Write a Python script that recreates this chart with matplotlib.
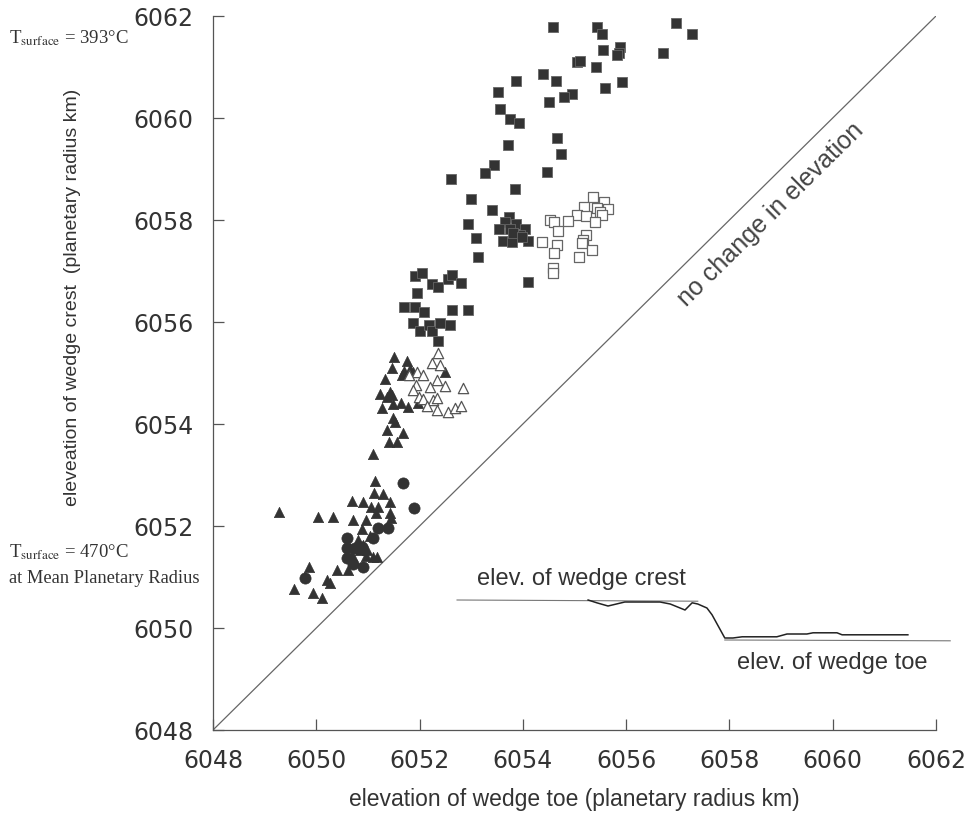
import numpy as np
import matplotlib.pyplot as plt

# -------------------------------------------------
# Data (planetary radius, km)
# -------------------------------------------------
sq_filled_toe = [
    6054.58, 6055.44, 6055.05, 6055.42, 6054.39, 6054.64, 6053.87, 6053.52,
    6054.95, 6054.80, 6054.51, 6053.56, 6053.75, 6053.93, 6054.66, 6054.74,
    6053.71, 6053.44, 6053.27, 6054.47, 6052.61, 6053.85, 6053.00, 6053.40,
    6053.73, 6053.87, 6053.65, 6053.54, 6053.75, 6054.04, 6053.94, 6053.62,
    6053.79, 6054.10, 6053.81, 6053.98, 6052.94, 6053.09, 6053.13, 6054.10,
    6051.91, 6052.05, 6051.95, 6052.24, 6052.36, 6052.55, 6052.63, 6052.80,
    6051.70, 6051.91, 6052.09, 6052.63, 6052.94, 6051.87, 6052.01, 6052.18,
    6052.24, 6052.40, 6052.59, 6052.36, 6055.53, 6056.97, 6057.28, 6055.55,
    6055.88, 6055.86, 6055.82, 6056.71, 6055.11, 6055.92, 6055.59,
]
sq_filled_crest = [
    6061.78, 6061.78, 6061.10, 6061.00, 6060.86, 6060.73, 6060.73, 6060.51,
    6060.47, 6060.41, 6060.31, 6060.18, 6059.98, 6059.90, 6059.61, 6059.29,
    6059.47, 6059.08, 6058.92, 6058.94, 6058.80, 6058.61, 6058.41, 6058.20,
    6058.06, 6057.92, 6057.96, 6057.82, 6057.82, 6057.82, 6057.71, 6057.59,
    6057.57, 6057.59, 6057.75, 6057.67, 6057.92, 6057.65, 6057.27, 6056.78,
    6056.90, 6056.96, 6056.57, 6056.75, 6056.69, 6056.84, 6056.92, 6056.76,
    6056.29, 6056.29, 6056.20, 6056.24, 6056.24, 6055.98, 6055.82, 6055.94,
    6055.82, 6055.98, 6055.94, 6055.63, 6061.65, 6061.86, 6061.65, 6061.33,
    6061.39, 6061.27, 6061.24, 6061.27, 6061.12, 6060.71, 6060.59,
]

sq_open_toe = [
    6055.36, 6055.57, 6055.18, 6055.44, 6055.65, 6055.49, 6055.05, 6055.22,
    6055.53, 6055.40, 6054.87, 6054.53, 6054.60, 6054.68, 6054.37, 6054.66,
    6054.60, 6055.22, 6055.16, 6055.15, 6055.34, 6055.09, 6054.58, 6054.58,
]
sq_open_crest = [
    6058.45, 6058.35, 6058.25, 6058.24, 6058.22, 6058.16, 6058.10, 6058.08,
    6058.10, 6057.96, 6057.98, 6058.00, 6057.96, 6057.78, 6057.57, 6057.51,
    6057.35, 6057.71, 6057.61, 6057.55, 6057.41, 6057.27, 6057.06, 6056.96,
]

tri_filled_toe = [
    6051.50, 6051.76, 6051.47, 6051.70, 6051.81, 6051.87, 6051.66, 6052.49,
    6051.33, 6051.23, 6051.43, 6051.37, 6051.47, 6051.27, 6051.49, 6051.64,
    6051.78, 6051.97, 6051.49, 6051.52, 6051.37, 6051.68, 6051.41, 6051.56,
    6051.10, 6051.14, 6051.12, 6051.29, 6050.69, 6050.90, 6051.06, 6051.20,
    6051.43, 6049.28, 6050.03, 6050.32, 6050.71, 6050.96, 6051.43, 6051.45,
    6051.16, 6050.89, 6050.90, 6050.98, 6050.85, 6051.10, 6051.18, 6050.96,
    6050.61, 6050.40, 6049.86, 6050.21, 6050.27, 6049.57, 6049.94, 6050.11,
    6050.81, 6051.04, 6050.69,
]
tri_filled_crest = [
    6055.31, 6055.24, 6055.10, 6055.04, 6055.08, 6055.02, 6054.96, 6055.02,
    6054.88, 6054.59, 6054.63, 6054.53, 6054.57, 6054.31, 6054.39, 6054.41,
    6054.33, 6054.41, 6054.12, 6054.04, 6053.88, 6053.82, 6053.65, 6053.65,
    6053.41, 6052.88, 6052.65, 6052.63, 6052.49, 6052.47, 6052.37, 6052.37,
    6052.47, 6052.27, 6052.18, 6052.18, 6052.12, 6052.12, 6052.25, 6052.16,
    6052.25, 6051.94, 6051.63, 6051.53, 6051.53, 6051.39, 6051.39, 6051.41,
    6051.14, 6051.14, 6051.20, 6050.94, 6050.88, 6050.76, 6050.69, 6050.59,
    6051.73, 6051.80, 6051.43,
]

tri_open_toe = [
    6052.36, 6052.24, 6052.40, 6051.95, 6052.07, 6051.80, 6052.34, 6051.93,
    6052.20, 6052.49, 6052.84, 6051.87, 6051.99, 6052.07, 6052.26, 6052.34,
    6052.14, 6052.34, 6052.55, 6052.69, 6052.80,
]
tri_open_crest = [
    6055.39, 6055.20, 6055.16, 6055.02, 6054.96, 6054.96, 6054.86, 6054.76,
    6054.73, 6054.75, 6054.71, 6054.67, 6054.53, 6054.49, 6054.47, 6054.51,
    6054.35, 6054.27, 6054.24, 6054.31, 6054.35,
]

circ_toe = [
    6051.68, 6051.89, 6051.20, 6051.39, 6050.59, 6051.10, 6050.59, 6050.75,
    6050.89, 6050.59, 6050.71, 6050.90, 6049.78,
]
circ_crest = [
    6052.84, 6052.35, 6051.96, 6051.96, 6051.76, 6051.76, 6051.57, 6051.57,
    6051.59, 6051.37, 6051.25, 6051.20, 6050.98,
]

TICKS = [6048, 6050, 6052, 6054, 6056, 6058, 6060, 6062]

# schematic profile (distance along profile, relative elevation)
profile_dist = [26.1, 27.8, 30.0, 31.0, 33.3, 40.2, 42.2, 45.1, 46.5, 47.6,
                49.4, 50.4, 52.9, 54.5, 56.3, 63.1, 65.1, 69.0, 70.2, 74.9,
                75.9, 88.8]
profile_elev = [1.00, 0.93, 0.85, 0.88, 0.95, 0.95, 0.90, 0.75, 0.93, 0.90,
                0.80, 0.63, 0.05, 0.05, 0.08, 0.08, 0.15, 0.15, 0.18, 0.18,
                0.13, 0.13]
crest_dist = [0.4, 47.6]
crest_elev = [1.00, 0.97]
toe_dist = [52.9, 97.1]
toe_elev = [0.00, -0.02]

# -------------------------------------------------
# Style
# -------------------------------------------------
plt.rcParams["mathtext.fontset"] = "stix"
INK = "#333333"
AXC = "#555555"
W, H = 971, 838

fig = plt.figure(figsize=(W / 100, H / 100), dpi=100)
ax = fig.add_axes([213 / W, 1 - 730 / H, 723 / W, 714 / H])

ax.scatter(sq_filled_toe, sq_filled_crest, marker="s", s=50,
           c=INK, edgecolors="#666666", linewidths=0.6, zorder=3)
ax.scatter(sq_open_toe, sq_open_crest, marker="s", s=50,
           facecolors="white", edgecolors="#666666", linewidths=0.9, zorder=3)
ax.scatter(tri_filled_toe, tri_filled_crest, marker="^", s=55,
           c=INK, edgecolors=INK, linewidths=0.5, zorder=3)
ax.scatter(tri_open_toe, tri_open_crest, marker="^", s=55,
           facecolors="white", edgecolors="#555555", linewidths=0.9, zorder=3)
ax.scatter(circ_toe, circ_crest, marker="o", s=65,
           c=INK, edgecolors=INK, linewidths=0.5, zorder=3)

# 1:1 line
ax.plot([TICKS[0], TICKS[-1]], [TICKS[0], TICKS[-1]], color="#666666", lw=0.9)
ax.text(6058.8, 6058.1, "no change in elevation", rotation=44.6,
        rotation_mode="anchor", ha="center", va="center",
        fontsize=18, color="#444444", family="Liberation Sans")

ax.set_xlim(TICKS[0], TICKS[-1])
ax.set_ylim(TICKS[0], TICKS[-1])
ax.set_xticks(TICKS)
ax.set_yticks(TICKS)
ax.tick_params(direction="in", length=8, width=0.9, color=AXC,
               labelsize=17, labelcolor="#333333", pad=14)
for lab in ax.get_xticklabels() + ax.get_yticklabels():
    lab.set_family("DejaVu Sans")

for side in ["top", "right"]:
    ax.spines[side].set_visible(False)
for side in ["left", "bottom"]:
    ax.spines[side].set_color(AXC)
    ax.spines[side].set_linewidth(0.9)

ax.set_ylabel("eleveation of wedge crest  (planetary radius km)",
              fontsize=14, color="#333333", family="Liberation Sans",
              va="center")
ax.yaxis.set_label_coords(-0.195, 0.606)
ax.set_xlabel("elevation of wedge toe (planetary radius km)",
              fontsize=16.5, color="#333333", family="Liberation Sans",
              va="center")
ax.xaxis.set_label_coords(0.5, -0.098)

# surface temperature notes
fig.text(9 / W, 1 - 43 / H, r"T$_{\mathrm{surface}}$ = 393°C",
         fontsize=13.5, family="Liberation Serif", color="#333333",
         va="baseline")
fig.text(9 / W, 1 - 557 / H, r"T$_{\mathrm{surface}}$ = 470°C",
         fontsize=13.5, family="Liberation Serif", color="#333333",
         va="baseline")
fig.text(9 / W, 1 - 583 / H, "at Mean Planetary Radius",
         fontsize=13.3, family="Liberation Serif", color="#333333",
         va="baseline")

# -------------------------------------------------
# Inset sketch of a wedge profile
# -------------------------------------------------
ins = fig.add_axes([455 / W, 1 - 650 / H, 510 / W, 80 / H])
ins.plot(crest_dist, crest_elev, color="#777777", lw=0.8)
ins.plot(toe_dist, toe_elev, color="#777777", lw=0.8)
ins.plot(profile_dist, profile_elev, color="#222222", lw=1.1)
ins.set_xlim(0, 100)
ins.set_ylim(-0.25, 1.75)
ins.axis("off")
ins.text(4.3, 1.52, "elev. of wedge crest", fontsize=17, color="#333333",
         family="Liberation Sans", va="center", clip_on=False)
ins.text(55.3, -0.57, "elev. of wedge toe", fontsize=17, color="#333333",
         family="Liberation Sans", va="center", clip_on=False)

plt.savefig("out.png", dpi=100)
